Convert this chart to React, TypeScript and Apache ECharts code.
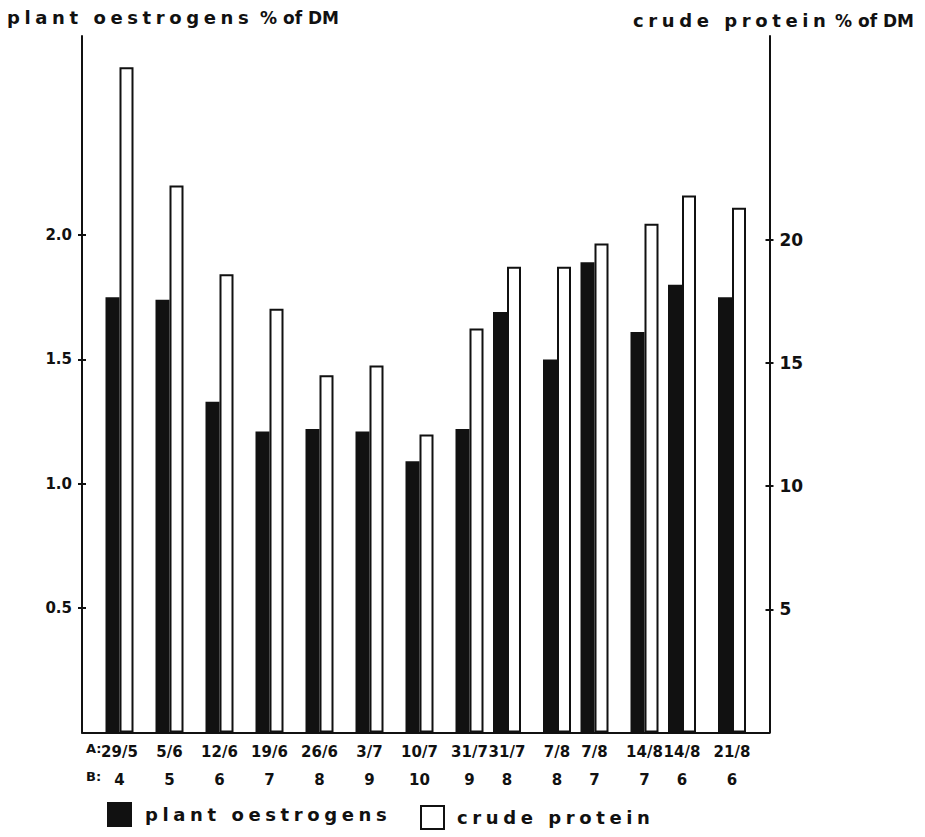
import React, { useEffect, useRef } from 'react';
import * as echarts from 'echarts';

// ---- data ----
const datesA = ['29/5', '5/6', '12/6', '19/6', '26/6', '3/7', '10/7', '31/7', '31/7', '7/8', '7/8', '14/8', '14/8', '21/8'];
const groupB = [4, 5, 6, 7, 8, 9, 10, 9, 8, 8, 7, 7, 6, 6];
const oestrogens = [1.75, 1.74, 1.33, 1.21, 1.22, 1.21, 1.09, 1.22, 1.69, 1.5, 1.89, 1.61, 1.8, 1.75];
const crudeProtein = [27.0, 22.2, 18.6, 17.2, 14.5, 14.9, 12.1, 16.4, 18.9, 18.9, 19.85, 20.65, 21.8, 21.3];
const leftTicks = [0.5, 1.0, 1.5, 2.0];
const rightTicks = [5, 10, 15, 20];

const FONT = 'DejaVu Sans';
const INK = '#111';

// layout rule: samples of the same date sit closer together
const SLOT_COUNT = 56;
const FIRST_SLOT = 3;
const slots: number[] = [];
datesA.forEach((d, i) => {
  slots.push(i === 0 ? FIRST_SLOT : slots[i - 1] + (d === datesA[i - 1] ? 3 : 4));
});
const slotKeys = Array.from({ length: SLOT_COUNT }, (_, k) => 's' + k);
const slotLabels = slotKeys.map((_, k) => {
  const i = slots.indexOf(k);
  return i >= 0 ? `${datesA[i]}\n${groupB[i]}` : '';
});
const toSlots = (vals: number[]) =>
  slotKeys.map((_, k) => {
    const i = slots.indexOf(k);
    return i >= 0 ? vals[i] : null;
  });

const LEFT_MAX = 2.8;
const RIGHT_MAX = 28.27;

export default function App() {
  const ref = useRef<HTMLDivElement>(null);
  useEffect(() => {
    if (!ref.current) return;
    const chart = echarts.init(ref.current, null, { renderer: 'svg' });
    const tickLine = { color: INK, width: 2 };
    const legendText = { fontSize: 18, fontWeight: 'bold', color: INK, fontFamily: FONT, padding: [0, 0, 0, 8] };
    chart.setOption({
      animation: false,
      backgroundColor: '#fff',
      grid: { left: 82, right: 155.5, top: 36, bottom: 104.5, containLabel: false },
      xAxis: {
        type: 'category',
        data: slotKeys,
        boundaryGap: false,
        axisLine: { show: true, lineStyle: { color: INK, width: 2 } },
        axisTick: { show: false },
        axisLabel: {
          interval: 0,
          margin: 5,
          fontSize: 15,
          fontWeight: 'bold',
          fontFamily: FONT,
          color: INK,
          lineHeight: 28,
          formatter: (_v: string, idx: number) => slotLabels[idx],
        },
        splitLine: { show: false },
      },
      yAxis: [
        {
          type: 'value',
          position: 'left',
          min: 0,
          max: LEFT_MAX,
          axisLine: { show: true, lineStyle: { color: INK, width: 2 } },
          axisTick: { show: true, length: 4, lineStyle: tickLine, customValues: leftTicks },
          axisLabel: {
            customValues: leftTicks,
            formatter: (v: number) => v.toFixed(1),
            margin: 10,
            fontSize: 15,
            fontWeight: 'bold',
            fontFamily: FONT,
            color: INK,
          },
          splitLine: { show: false },
        },
        {
          type: 'value',
          position: 'right',
          min: 0,
          max: RIGHT_MAX,
          axisLine: { show: true, lineStyle: { color: INK, width: 2 } },
          axisTick: { show: true, length: 4, lineStyle: tickLine, customValues: rightTicks },
          axisLabel: {
            customValues: rightTicks,
            formatter: (v: number) => String(v),
            margin: 10,
            fontSize: 17,
            fontWeight: 'bold',
            fontFamily: FONT,
            color: INK,
          },
          splitLine: { show: false },
        },
        {
          type: 'value',
          position: 'left',
          min: 0,
          max: LEFT_MAX,
          axisLine: { show: false },
          axisTick: { show: true, inside: true, length: 4, lineStyle: tickLine, customValues: leftTicks },
          axisLabel: { show: false },
          splitLine: { show: false },
        },
        {
          type: 'value',
          position: 'right',
          min: 0,
          max: RIGHT_MAX,
          axisLine: { show: false },
          axisTick: { show: true, inside: true, length: 4, lineStyle: tickLine, customValues: rightTicks },
          axisLabel: { show: false },
          splitLine: { show: false },
        },
      ],
      legend: [
        {
          data: ['plant oestrogens'],
          left: 102,
          top: 797,
          itemWidth: 25,
          itemHeight: 25,
          icon: 'rect',
          selectedMode: false,
          textStyle: legendText,
        },
        {
          data: ['crude protein'],
          left: 415,
          top: 800,
          itemWidth: 23,
          itemHeight: 23,
          icon: 'rect',
          selectedMode: false,
          textStyle: legendText,
        },
      ],
      series: [
        {
          name: 'plant oestrogens',
          type: 'bar',
          yAxisIndex: 0,
          data: toSlots(oestrogens),
          barWidth: 14,
          barGap: '0%',
          itemStyle: { color: INK },
        },
        {
          name: 'crude protein',
          type: 'bar',
          yAxisIndex: 1,
          data: toSlots(crudeProtein),
          barWidth: 14,
          barGap: '0%',
          itemStyle: { color: '#fff', borderColor: INK, borderWidth: 2 },
        },
      ],
      graphic: [
        { type: 'text', left: 7, top: 8, style: { text: 'plant oestrogens', fontSize: 18, fontWeight: 'bold', fontFamily: FONT, fill: INK } },
        { type: 'text', left: 260, top: 9, style: { text: '% of DM', fontSize: 17, fontWeight: 'bold', fontFamily: FONT, fill: INK } },
        { type: 'text', left: 633, top: 11, style: { text: 'crude protein', fontSize: 18, fontWeight: 'bold', fontFamily: FONT, fill: INK } },
        { type: 'text', left: 835, top: 12, style: { text: '% of DM', fontSize: 17, fontWeight: 'bold', fontFamily: FONT, fill: INK } },
        { type: 'text', left: 86, top: 742, style: { text: 'A:', fontSize: 13, fontWeight: 'bold', fontFamily: FONT, fill: INK } },
        { type: 'text', left: 86, top: 770, style: { text: 'B:', fontSize: 13, fontWeight: 'bold', fontFamily: FONT, fill: INK } },
      ],
    });
    return () => chart.dispose();
  }, []);
  return (
    <>
      <style>{`.ref-chart text[style*="18px"]{letter-spacing:4.6px;}`}</style>
      <div
        ref={ref}
        className="ref-chart"
        style={{ position: 'fixed', left: 0, top: 0, width: 925, height: 837, background: '#fff' }}
      />
    </>
  );
}
